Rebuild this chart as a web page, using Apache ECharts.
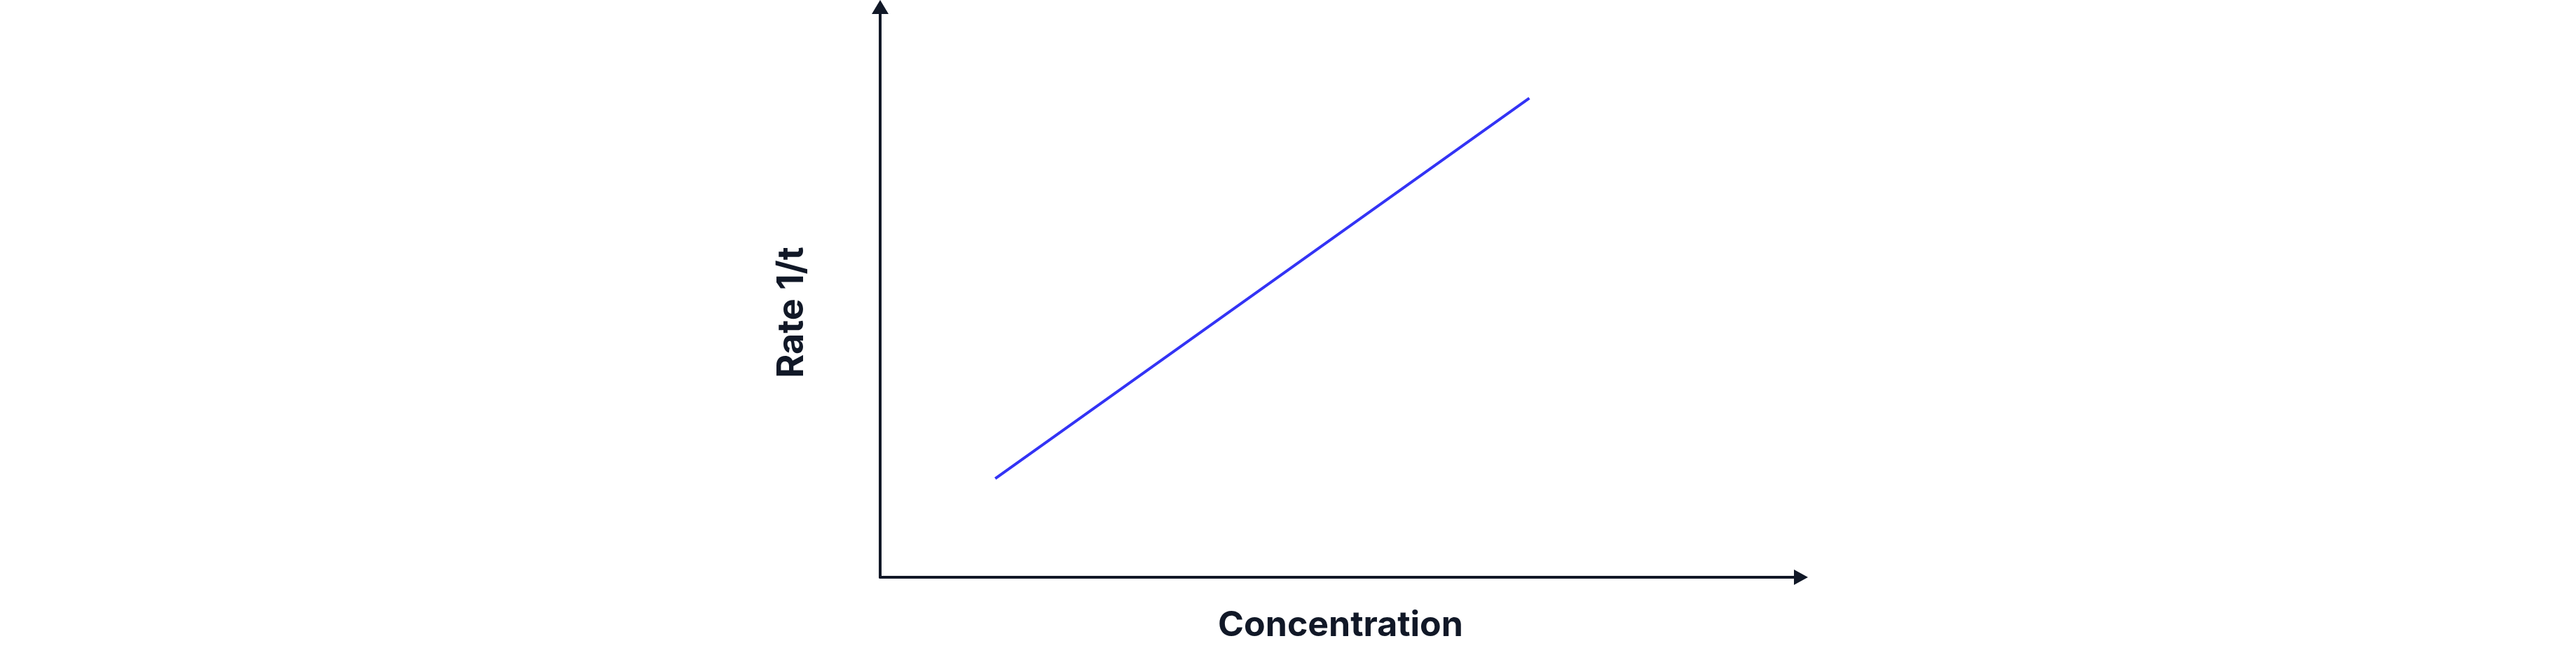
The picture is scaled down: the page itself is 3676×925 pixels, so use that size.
<!DOCTYPE html>
<html><head><meta charset="utf-8">
<script src="https://cdn.jsdelivr.net/npm/echarts@6/dist/echarts.min.js"></script>
<style>html,body{margin:0;padding:0;background:#fff}#c{width:3676px;height:925px}</style>
</head><body><div id="c"></div>
<script>
const concentration = [1.25, 7.05];
const rate = [1.73, 8.40];
const xTitle = 'Concentration';
const yTitle = 'Rate 1/t';
const ink = '#111827';
const chart = echarts.init(document.getElementById('c'), null, {renderer:'canvas'});
chart.setOption({
  animation:false,
  grid:{left:1256, top:10, right:1106, bottom:101},
  xAxis:{type:'value', min:0, max:10, name:xTitle, nameLocation:'middle', nameGap:44,
    nameTextStyle:{fontFamily:'Inter', fontWeight:'bold', fontSize:50, color:ink},
    axisLine:{show:true, lineStyle:{color:ink, width:4}, symbol:['none','triangle'], symbolSize:[22,20]},
    axisTick:{show:false}, axisLabel:{show:false}, splitLine:{show:false}},
  yAxis:{type:'value', min:0, max:10, name:yTitle, nameLocation:'middle', nameGap:100, nameRotate:90,
    nameTextStyle:{fontFamily:'Inter', fontWeight:'bold', fontSize:52, color:ink, padding:[0,58,0,0]},
    axisLine:{show:true, lineStyle:{color:ink, width:4}, symbol:['none','triangle'], symbolSize:[24,20]},
    axisTick:{show:false}, axisLabel:{show:false}, splitLine:{show:false}},
  series:[{type:'line', data:concentration.map((x,i)=>[x, rate[i]]), showSymbol:false,
    lineStyle:{color:'#3333f5', width:4}}]
});
</script></body></html>
